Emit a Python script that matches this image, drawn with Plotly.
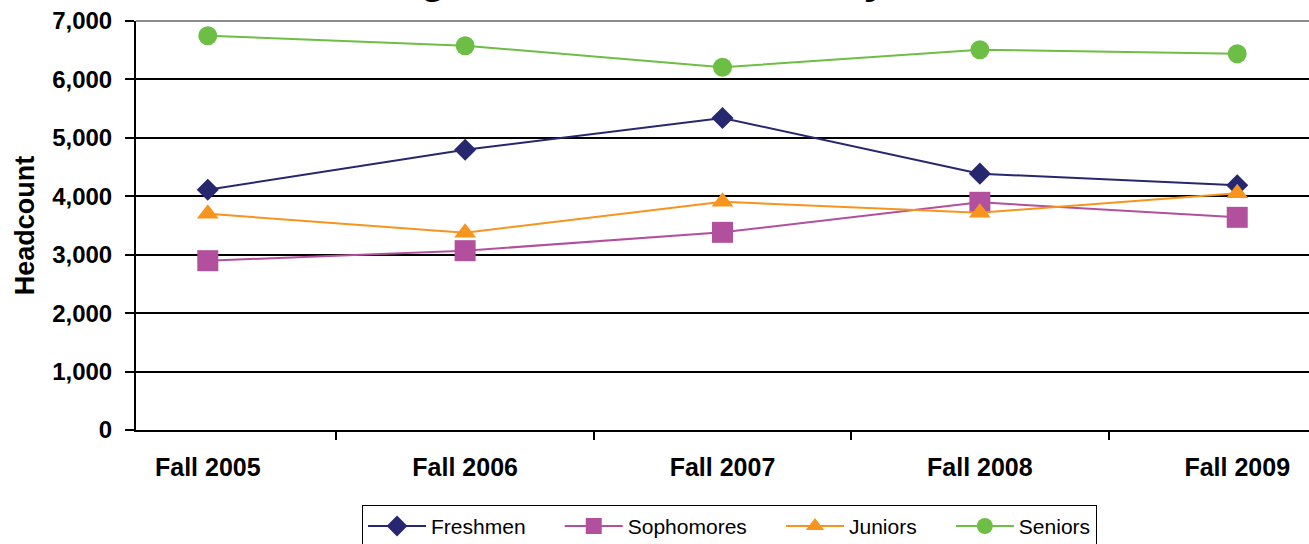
import plotly.graph_objects as go

# data
terms = ["Fall 2005", "Fall 2006", "Fall 2007", "Fall 2008", "Fall 2009"]
freshmen = [4113, 4797, 5340, 4387, 4188]
sophomores = [2898, 3069, 3383, 3897, 3640]
juniors = [3700, 3377, 3907, 3719, 4051]
seniors = [6748, 6577, 6207, 6509, 6440]

pad = "\u00a0" * 5  # wider gaps between legend entries
series = [
    ("Freshmen" + pad, freshmen, "#27276F", "diamond", 17),
    ("Sophomores" + pad, sophomores, "#B3509E", "square", 21),
    ("Juniors" + pad, juniors, "#F7941D", "triangle-up", 19),
    ("Seniors", seniors, "#6DBE45", "circle", 19),
]

fig = go.Figure()
for name, vals, color, symbol, size in series:
    fig.add_trace(go.Scatter(
        x=terms, y=vals, name=name, mode="lines+markers",
        line=dict(color=color, width=2),
        marker=dict(symbol=symbol, size=size, color=color, line=dict(width=0)),
    ))

font = "Liberation Sans, Arial, sans-serif"

fig.update_layout(
    width=1309, height=544,
    margin=dict(l=136, r=0, t=21, b=114, autoexpand=False),
    plot_bgcolor="white", paper_bgcolor="white",
    font=dict(family=font, color="black"),
    showlegend=True,
    legend=dict(orientation="h", x=0.506, xanchor="center", y=-0.183, yanchor="top",
                bordercolor="black", borderwidth=1, font=dict(size=21),
                itemwidth=58, tracegroupgap=0),
)

fig.update_xaxes(
    type="category", tickson="boundaries", ticks="outside", ticklen=8,
    tickcolor="black", tickwidth=2, showline=True, linecolor="black", linewidth=2,
    showgrid=False, tickfont=dict(size=25, family=font, weight="bold"),
    ticklabelstandoff=14,
)
fig.update_yaxes(
    range=[0, 7000], dtick=1000, tickformat=",", ticks="outside", ticklen=9,
    tickcolor="black", tickwidth=2, showline=True, linecolor="black", linewidth=2,
    showgrid=True, gridcolor="black", gridwidth=2, zeroline=False,
    tickfont=dict(size=24, family=font, weight="bold"), ticklabelstandoff=8,
    ticklabeloverflow="allow",
    title=dict(text="Headcount", font=dict(size=27, family=font, weight="bold"), standoff=10),
)

# top border of the plot area is grey in the original
fig.add_shape(type="line", xref="paper", yref="paper", x0=0, x1=1, y0=1, y1=1,
              line=dict(color="#8C8C8C", width=2), layer="above")

# title sits mostly above the visible area, only the descenders show
fig.add_annotation(
    text="Undergraduate Headcount by Class Level", xref="paper", yref="paper",
    x=0.493, y=1.105, xanchor="center", yanchor="middle", showarrow=False,
    font=dict(size=42, family=font, weight="bold"),
)

# drop the default 8px page margin so the figure fills the window
fig.write_html("out.html", config={"displayModeBar": False},
               post_script="document.body.style.margin='0';")
